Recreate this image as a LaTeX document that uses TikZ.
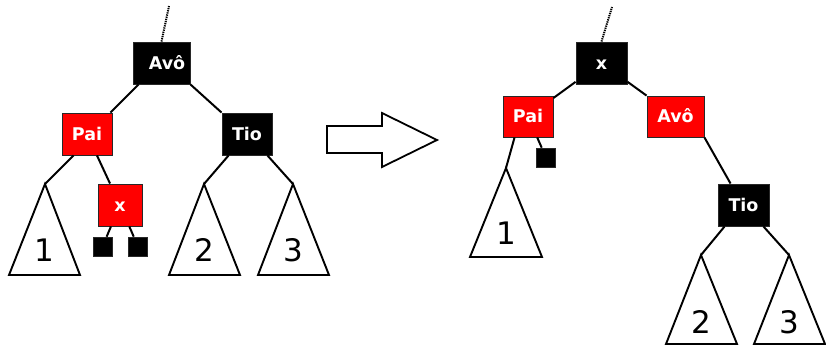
\documentclass[tikz,border=0pt]{standalone}
\usepackage{fontspec}
\setmainfont{DejaVu Sans}
\definecolor{rbred}{RGB}{255,0,0}
\definecolor{rbedge}{RGB}{40,40,40}
\begin{document}
\begin{tikzpicture}[x=1pt,y=-1pt,
  box/.style={draw=rbedge,line width=0.9pt,inner sep=0pt,minimum height=42pt,
    text=white,font=\fontsize{17.5}{19}\bfseries\selectfont,text height=12.5pt,text depth=0pt},
  blackbox/.style={box,fill=black},
  redbox/.style={box,fill=rbred},
  leaf/.style={draw=rbedge,line width=0.6pt,fill=black,inner sep=0pt,minimum size=19pt},
  edge/.style={line width=2pt,black},
  tri/.style={line width=1.9pt,black},
  num/.style={font=\fontsize{31}{33}\selectfont,inner sep=0pt},
  dots/.style={line width=2pt,dash pattern=on 1.3pt off 0.9pt}
]
\useasboundingbox (0,0) rectangle (826,346);

% ---------- left tree ----------
\node[blackbox,minimum width=57pt] (avoL) at (161.5,63) {\hspace*{11pt}Avô};
\node[redbox,minimum width=50pt] (paiL) at (87,134) {Pai};
\node[blackbox,minimum width=50pt] (tioL) at (247,134) {Tio};
\node[redbox,minimum width=44pt] (xL) at (120,205) {x};
\node[leaf] (leafL1) at (102.5,246.5) {};
\node[leaf] (leafL2) at (138,246.5) {};
\coordinate (topL) at (169,6);
\coordinate (a1L) at (45,184);
\coordinate (a2L) at (204,184);
\coordinate (a3L) at (293,184);

\draw[dots] (avoL.north) -- (topL);
\draw[edge] ([xshift=6pt]avoL.south west) -- ([xshift=-2pt]paiL.north east);
\draw[edge] (avoL.south east) -- (tioL.north west);
\draw[edge] (paiL) -- (xL);
\draw[edge] ([xshift=12pt]paiL.south west) -- (a1L);
\draw[edge] (xL) -- (leafL1);
\draw[edge] (xL) -- (leafL2);
\draw[edge] ([xshift=7pt]tioL.south west) -- (a2L);
\draw[edge] ([xshift=-5pt]tioL.south east) -- (a3L);

\draw[tri] (a1L) -- ++(-36,91) -- ++(71,0) -- cycle;
\draw[tri] (a2L) -- ++(-35,91) -- ++(71,0) -- cycle;
\draw[tri] (a3L) -- ++(-35,91) -- ++(71,0) -- cycle;
\node[num] (n1L) at (44.5,250) {1};
\node[num] (n2L) at (204,250) {2};
\node[num] (n3L) at (293,250) {3};

% ---------- arrow ----------
\draw[line width=1.8pt,fill=white] (327,126) -- (382,126) -- (382,113) -- (437,140)
  -- (382,167) -- (382,153) -- (327,153) -- cycle;

% ---------- right tree ----------
\node[blackbox,minimum width=51pt] (xR) at (601.5,63) {x};
\node[redbox,minimum width=50pt,minimum height=41pt] (paiR) at (528,116.5) {Pai};
\node[redbox,minimum width=57pt,minimum height=41pt] (avoR) at (675.5,116.5) {Avô};
\node[blackbox,minimum width=51pt] (tioR) at (743.5,205) {Tio};
\node[leaf] (leafR) at (546,157.5) {};
\coordinate (topR) at (612,7);
\coordinate (a1R) at (506,168);
\coordinate (a2R) at (701,255);
\coordinate (a3R) at (789,255);

\draw[dots] (xR.north) -- (topR);
\draw[edge] (xR) -- (paiR);
\draw[edge] (xR) -- (avoR);
\draw[edge] ([xshift=12pt]paiR.south west) -- (a1R);
\draw[edge] (paiR) -- (leafR);
\draw[edge] (avoR.south east) -- ([xshift=13pt]tioR.north west);
\draw[edge] ([xshift=7pt]tioR.south west) -- (a2R);
\draw[edge] ([xshift=-6pt]tioR.south east) -- (a3R);

\draw[tri] (a1R) -- ++(-36,89) -- ++(72,0) -- cycle;
\draw[tri] (a2R) -- ++(-35,89) -- ++(71,0) -- cycle;
\draw[tri] (a3R) -- ++(-35,89) -- ++(71,0) -- cycle;
\node[num] (n1R) at (506,233) {1};
\node[num] (n2R) at (701,322) {2};
\node[num] (n3R) at (789,322) {3};
\end{tikzpicture}
\end{document}
